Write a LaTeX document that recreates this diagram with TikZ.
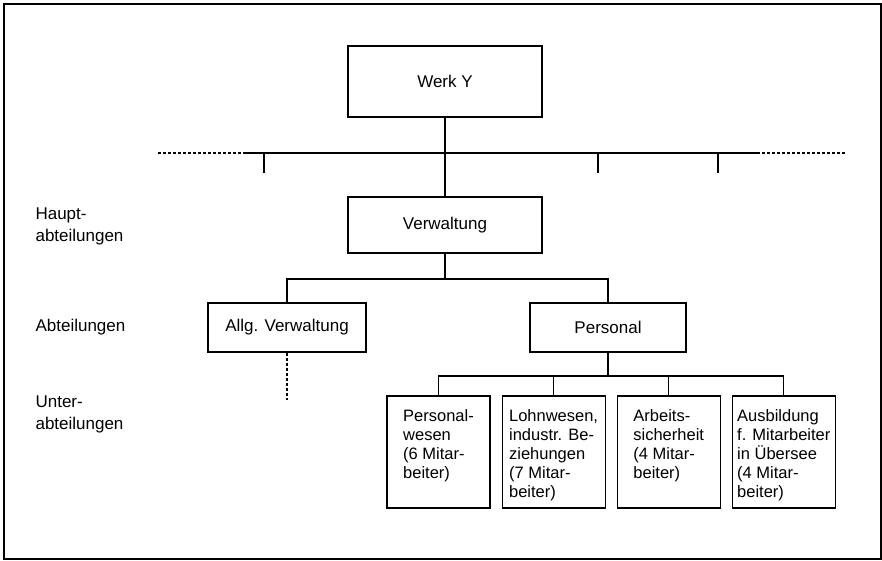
\documentclass[tikz,border=0pt]{standalone}
\usepackage{fontspec}
\setmainfont{Liberation Sans}
\usetikzlibrary{positioning}
\newcommand{\subtext}[1]{\vbox to 88pt{\hbox{\begin{tabular}[t]{@{}l@{}}#1\end{tabular}}\vss}}

\begin{document}
\begin{tikzpicture}[x=1pt, y=-1pt, line width=1.1pt,
    unit/.style={draw, minimum width=194pt, minimum height=71pt, font=\fontsize{17}{22}\selectfont},
    subunit/.style={draw, minimum width=103pt, inner xsep=0pt, inner ysep=12pt, font=\fontsize{16.5}{19}\selectfont},
    level/.style={anchor=west, align=left, inner sep=0pt, font=\fontsize{17}{22}\selectfont}]
    \useasboundingbox (0,0) rectangle (882,560);
    \draw (4,4) rectangle (881,559);

    \node (werk) [unit] at (445,81.5) {Werk Y};
    \node (verw) [unit, minimum height=56pt] at (445,225) {Verwaltung};
    \node (allg) [unit, minimum width=158pt, minimum height=49pt] at (287,327.5) {Allg. Verwaltung};
    \node (pers) [unit, minimum width=156pt, minimum height=49pt] at (608,327.5) {Personal};

    \node (sub1) [subunit] at (438.5,452) {\subtext{Personal-\\wesen\\(6 Mitar-\\beiter)}};
    \node (sub2) [subunit, right=11pt of sub1] {\subtext{Lohnwesen,\\industr. Be-\\ziehungen\\(7 Mitar-\\beiter)}};
    \node (sub3) [subunit, right=11pt of sub2] {\subtext{Arbeits-\\sicherheit\\(4 Mitar-\\beiter)}};
    \node (sub4) [subunit, right=11pt of sub3] {\subtext{Ausbildung\\f. Mitarbeiter\\in Übersee\\(4 Mitar-\\beiter)}};

    \node (haupt) [level] at (35,226) {Haupt-\\abteilungen};
    \node (abt) [level] at (35,327) {Abteilungen};
    \node (unter) [level] at (35,414) {Unter-\\abteilungen};

    % line below the plant
    \coordinate (bus-l) at (158,153);
    \coordinate (bus-a) at (243,153);
    \coordinate (bus-b) at (757,153);
    \coordinate (bus-r) at (845,153);
    \draw [densely dashed] (bus-l) -- (bus-a);
    \draw (bus-a) -- (bus-b);
    \draw [densely dashed] (bus-b) -- (bus-r);
    \foreach \x [count=\i] in {264,598,718} {
        \coordinate (tick\i) at (\x,173);
        \draw (tick\i) -- (tick\i |- bus-a);
    }
    \draw (werk) -- (verw);

    \coordinate (fork1) at (445,279);
    \draw (verw) -- (fork1);
    \draw (allg) |- (fork1) -| (pers);
    \coordinate (allg-end) at (287,400);
    \draw [densely dashed] (allg) -- (allg-end);

    \coordinate (fork2) at (608,376);
    \draw (pers) -- (fork2);
    \draw (sub1) |- (fork2) -| (sub4);
    \draw (sub2) -- (sub2 |- fork2);
    \draw (sub3) -- (sub3 |- fork2);
\end{tikzpicture}
\end{document}
